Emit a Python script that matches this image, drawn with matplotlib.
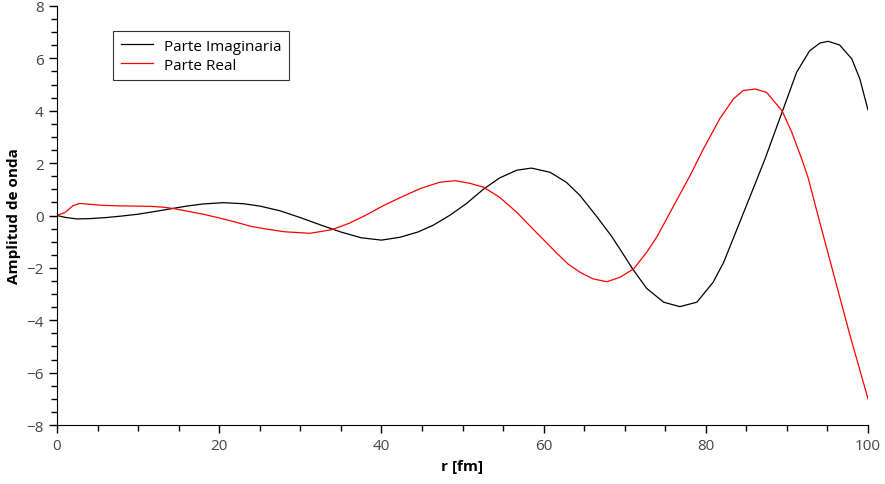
import numpy as np
import matplotlib
matplotlib.use("Agg")
import matplotlib.pyplot as plt
from matplotlib.ticker import MultipleLocator

# valores
r_imag = [0, 1, 2.4, 4, 6, 8, 10, 12, 14.3, 16, 18, 20.5, 23, 25, 27.5, 30, 32.5,
          35, 37.5, 40, 42.3, 44.5, 46.4, 48.5, 50.5, 52.6, 54.6, 56.7, 58.5, 60.8,
          62.8, 64.5, 66.5, 68.4, 69.7, 71, 72.7, 74.8, 76.8, 78.9, 80.9, 82.2, 84,
          85.5, 87.3, 89.4, 91.2, 92.8, 94.1, 95.1, 96.5, 98, 99, 100]
imag = [0, -0.07, -0.13, -0.12, -0.08, -0.02, 0.05, 0.15, 0.27, 0.36, 0.44, 0.49,
        0.45, 0.36, 0.18, -0.08, -0.36, -0.63, -0.85, -0.94, -0.83, -0.63, -0.37,
        0.02, 0.46, 1.01, 1.44, 1.73, 1.81, 1.65, 1.27, 0.76, -0.02, -0.8, -1.42,
        -2.05, -2.78, -3.31, -3.48, -3.31, -2.55, -1.79, -0.4, 0.76, 2.16, 3.94,
        5.47, 6.29, 6.59, 6.65, 6.51, 5.98, 5.21, 4.03]

r_real = [0, 1, 2, 2.8, 4, 5.5, 7.4, 9.5, 11.5, 13, 14.3, 16, 18, 19.7, 22, 24, 25.9,
          28, 31.2, 33.9, 36, 38, 40.2, 42.3, 44.8, 47.2, 49.1, 50.9, 52.6, 54.6,
          56.7, 58.7, 61.6, 63, 64.5, 66.1, 67.8, 69.4, 71.1, 72.7, 74, 76, 78.05,
          79.7, 81.75, 83.4, 84.6, 86.1, 87.5, 89.4, 90.6, 91.8, 92.6, 94, 95.7,
          97.8, 100]
real = [0, 0.12, 0.38, 0.46, 0.43, 0.39, 0.37, 0.36, 0.35, 0.32, 0.27, 0.17, 0.05,
        -0.07, -0.25, -0.42, -0.52, -0.62, -0.68, -0.54, -0.3, 0.0, 0.37, 0.68,
        1.03, 1.27, 1.33, 1.23, 1.08, 0.69, 0.12, -0.52, -1.43, -1.85, -2.17,
        -2.42, -2.53, -2.36, -2.04, -1.41, -0.8, 0.35, 1.52, 2.54, 3.71, 4.45,
        4.77, 4.83, 4.70, 4.0, 3.18, 2.18, 1.46, -0.2, -2.17, -4.6, -7.0]

plt.rcParams['font.family'] = ['Open Sans', 'DejaVu Sans']

fig = plt.figure(figsize=(8.85, 4.85), dpi=100)
ax = fig.add_axes([0.0644, 0.1216, 0.9164, 0.864])

ax.plot(r_imag, imag, color='black', lw=0.9, label='Parte Imaginaria')
ax.plot(r_real, real, color='red', lw=0.9, label='Parte Real')

ax.set_xlim(0, 100)
ax.set_ylim(-8, 8)
ax.xaxis.set_major_locator(MultipleLocator(20))
ax.xaxis.set_minor_locator(MultipleLocator(5))
ax.yaxis.set_major_locator(MultipleLocator(2))
ax.yaxis.set_minor_locator(MultipleLocator(0.5))
ax.tick_params(which='major', length=6, width=1, labelsize=11, labelcolor='#444444')
ax.tick_params(which='minor', length=4, width=1)
ax.spines['top'].set_visible(False)
ax.spines['right'].set_visible(False)

ax.set_xlabel('r [fm]', fontsize=11, fontweight='bold', labelpad=4)
ax.set_ylabel('Amplitud de onda', fontsize=11, fontweight='bold', labelpad=4)

leg = ax.legend(loc='upper left', bbox_to_anchor=(0.069, 0.94), fontsize=11,
                frameon=True, fancybox=False, handlelength=2.1, borderpad=0.5,
                labelspacing=0.25, handletextpad=0.75, borderaxespad=0)
leg.get_frame().set_edgecolor('black')
leg.get_frame().set_linewidth(0.8)

fig.savefig('out.png', dpi=100)
